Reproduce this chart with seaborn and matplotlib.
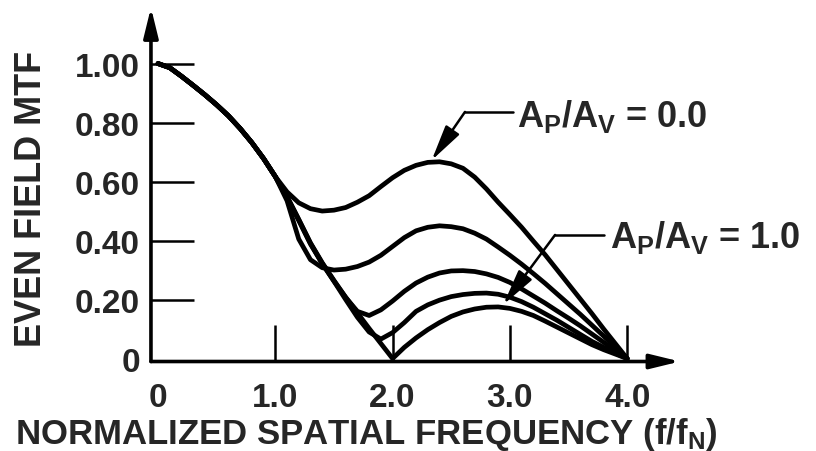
import pandas as pd
import matplotlib
matplotlib.use("Agg")
import matplotlib.pyplot as plt
import seaborn as sns

# Normalized spatial frequency (f/fN), read every 0.1
freq = [0.0, 0.1, 0.2, 0.3, 0.4, 0.5, 0.6, 0.7, 0.8, 0.9, 1.0,
        1.1, 1.2, 1.3, 1.4, 1.5, 1.6, 1.7, 1.8, 1.9, 2.0,
        2.1, 2.2, 2.3, 2.4, 2.5, 2.6, 2.7, 2.8, 2.9, 3.0,
        3.1, 3.2, 3.3, 3.4, 3.5, 3.6, 3.7, 3.8, 3.9, 4.0]

# all curves share the same main lobe up to f/fN = 1.0
mtf_head = [1.000, 0.986, 0.957, 0.926, 0.894, 0.860, 0.823, 0.780, 0.732, 0.678, 0.617]

# Ap/Av ratio of each curve (top to bottom)
ratios = ["0.0", "0.25", "0.5", "0.75", "1.0"]

mtf_00 = mtf_head + [0.565, 0.528, 0.508, 0.500, 0.503, 0.512, 0.530, 0.552, 0.583, 0.613,
                     0.638, 0.655, 0.665, 0.667, 0.660, 0.645, 0.615, 0.575, 0.530, 0.488,
                     0.445, 0.398, 0.352, 0.302, 0.252, 0.202, 0.152, 0.100, 0.050, 0.000]
mtf_025 = mtf_head + [0.535, 0.405, 0.335, 0.308, 0.300, 0.303, 0.312, 0.327, 0.350, 0.380,
                      0.410, 0.433, 0.445, 0.450, 0.447, 0.440, 0.425, 0.405, 0.378, 0.350,
                      0.320, 0.288, 0.255, 0.220, 0.185, 0.150, 0.113, 0.076, 0.038, 0.000]
mtf_05 = mtf_head + [0.550, 0.472, 0.392, 0.325, 0.265, 0.207, 0.160, 0.146, 0.165, 0.195,
                     0.228, 0.256, 0.276, 0.290, 0.297, 0.298, 0.295, 0.287, 0.275, 0.258,
                     0.236, 0.212, 0.188, 0.162, 0.137, 0.111, 0.083, 0.055, 0.027, 0.000]
mtf_075 = mtf_head + [0.548, 0.470, 0.390, 0.322, 0.262, 0.200, 0.140, 0.090, 0.066, 0.088,
                      0.122, 0.160, 0.182, 0.198, 0.210, 0.217, 0.221, 0.222, 0.218, 0.208,
                      0.193, 0.174, 0.152, 0.130, 0.106, 0.082, 0.058, 0.038, 0.018, 0.000]
mtf_10 = mtf_head + [0.545, 0.468, 0.388, 0.322, 0.263, 0.208, 0.155, 0.102, 0.051, 0.000,
                     0.038, 0.070, 0.098, 0.122, 0.143, 0.158, 0.168, 0.174, 0.175, 0.170,
                     0.160, 0.146, 0.127, 0.107, 0.087, 0.067, 0.047, 0.030, 0.015, 0.000]

xtick_vals = [0, 1, 2, 3, 4]
xtick_labels = ["0", "1.0", "2.0", "3.0", "4.0"]
ytick_vals = [0, 0.2, 0.4, 0.6, 0.8, 1.0]
ytick_labels = ["0", "0.20", "0.40", "0.60", "0.80", "1.00"]

# long-form table for seaborn
curves = [mtf_00, mtf_025, mtf_05, mtf_075, mtf_10]
df = pd.concat([pd.DataFrame({"freq": freq, "mtf": c, "ratio": r})
                for r, c in zip(ratios, curves)], ignore_index=True)

sns.set_style("white")
plt.rcParams["font.family"] = ["Liberation Sans", "DejaVu Sans"]
plt.rcParams["font.weight"] = "bold"
plt.rcParams["mathtext.fontset"] = "custom"
plt.rcParams["mathtext.rm"] = "Liberation Sans:bold"
plt.rcParams["mathtext.it"] = "Liberation Sans:bold"
plt.rcParams["mathtext.bf"] = "Liberation Sans:bold"

fig = plt.figure(figsize=(8.16, 4.52), dpi=100)
ax = fig.add_axes([0.185, 0.198, 0.6483, 0.7832])

sns.lineplot(data=df, x="freq", y="mtf", hue="ratio", palette=["black"] * 5,
             legend=False, errorbar=None, linewidth=3.4, ax=ax)
for line in ax.lines:
    line.set_solid_joinstyle("round")
    line.set_solid_capstyle("round")

ax.set_xlim(-0.06, 4.45)
ax.set_ylim(-0.01, 1.19)
for s in ax.spines.values():
    s.set_visible(False)

# axes drawn as arrows
arrow_kw = dict(arrowstyle="-|>,head_length=0.9,head_width=0.22", lw=2.6, color="black",
                shrinkA=0, shrinkB=0, mutation_scale=20)
ax.annotate("", xy=(0, 1), xycoords="axes fraction", xytext=(0, 0), arrowprops=arrow_kw)
ax.annotate("", xy=(1, 0), xycoords="axes fraction", xytext=(0, 0), arrowprops=arrow_kw)

# labels on major ticks, tick marks on minor ticks (none at 0)
ax.xaxis.remove_overlapping_locs = False
ax.yaxis.remove_overlapping_locs = False
ax.set_xticks(xtick_vals)
ax.set_xticklabels(xtick_labels)
ax.set_yticks(ytick_vals)
ax.set_yticklabels(ytick_labels)
ax.set_xticks(xtick_vals[1:], minor=True)
ax.set_yticks(ytick_vals[1:], minor=True)
ax.tick_params(which="both", left=True, bottom=True)
ax.tick_params(which="major", length=0, labelsize=24)
ax.tick_params(axis="x", which="major", pad=15)
ax.tick_params(axis="y", which="major", pad=8)
ax.tick_params(which="minor", direction="in", width=1.8, color="black")
ax.tick_params(axis="x", which="minor", length=27)
ax.tick_params(axis="y", which="minor", length=31)
for lab in ax.get_xticklabels() + ax.get_yticklabels():
    lab.set_fontweight("bold")
ax.set_xlabel("")
ax.set_ylabel("")

fig.text(366 / 816, 0.0177, "NORMALIZED SPATIAL FREQUENCY (f/f$_{N}$)",
         fontsize=25, fontweight="bold", ha="center", va="baseline")
fig.text(32 / 816, 1 - 198.5 / 452, "EVEN FIELD MTF", fontsize=26,
         fontweight="bold", rotation=90, ha="center", va="center")

# callouts
lead_kw = dict(arrowstyle="-|>,head_length=1.1,head_width=0.25", lw=1.8, color="black",
               shrinkA=0, shrinkB=0, mutation_scale=20)
ax.plot([2.617, 3.03], [0.836, 0.836], color="black", lw=1.8)
ax.annotate("", xy=(2.333, 0.672), xytext=(2.617, 0.836), arrowprops=lead_kw)
ax.text(3.06, 0.788, r"$\mathbf{A_P/A_V}$ = 0.0", fontsize=26, fontweight="bold",
        ha="left", va="baseline")

ax.plot([3.385, 3.80], [0.419, 0.419], color="black", lw=1.8)
ax.annotate("", xy=(2.944, 0.183), xytext=(3.385, 0.419), arrowprops=lead_kw)
ax.text(3.853, 0.378, r"$\mathbf{A_P/A_V}$ = 1.0", fontsize=26, fontweight="bold",
        ha="left", va="baseline")

fig.savefig("out.png", dpi=100, facecolor="white")
